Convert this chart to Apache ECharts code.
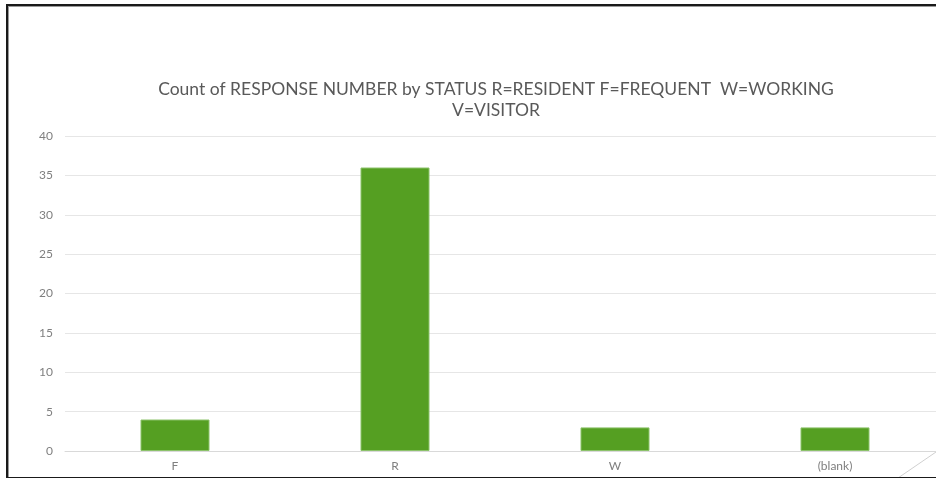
<!DOCTYPE html>
<html>
<head>
<meta charset="utf-8">
<script src="https://cdn.jsdelivr.net/npm/echarts@6/dist/echarts.min.js"></script>
<style>
html,body{margin:0;padding:0;background:#fff;overflow:hidden;width:936px;height:478px;}
#chart{position:absolute;left:0;top:0;width:945px;height:478px;}
#frame{position:absolute;left:6px;top:4px;width:950px;height:471px;border:2px solid #1a1a1a;box-shadow:inset 1px 1px 0 #9a9a9a;pointer-events:none;}
</style>
</head>
<body>
<div id="chart"></div>
<div id="frame"></div>
<script>
const titleText = "Count of RESPONSE NUMBER by STATUS R=RESIDENT F=FREQUENT  W=WORKING\nV=VISITOR";
const categories = ["F", "R", "W", "(blank)"];
const counts = [4, 36, 3, 3];
const yTicks = { min: 0, max: 40, interval: 5 };

const chart = echarts.init(document.getElementById('chart'), null, { renderer: 'canvas' });
chart.setOption({
  backgroundColor: '#ffffff',
  animation: false,
  title: {
    text: titleText,
    left: 491,
    top: 74,
    textAlign: 'center',
    textStyle: {
      fontFamily: 'Lato, "Open Sans", sans-serif',
      fontSize: 17.5,
      fontWeight: 'normal',
      color: '#595959',
      lineHeight: 21
    }
  },
  grid: { left: 65, right: 0, top: 136, bottom: 27, containLabel: false },
  xAxis: {
    type: 'category',
    data: categories,
    axisLine: { show: true, lineStyle: { color: '#d9d9d9', width: 1 } },
    axisTick: { show: false },
    axisLabel: { color: '#7f7f7f', fontSize: 12, margin: 9, fontFamily: 'Lato, sans-serif' },
    splitLine: { show: false }
  },
  yAxis: {
    type: 'value',
    min: yTicks.min, max: yTicks.max, interval: yTicks.interval,
    axisLine: { show: false },
    axisTick: { show: false },
    axisLabel: { color: '#7f7f7f', fontSize: 12, margin: 12, fontFamily: 'Lato, sans-serif' },
    splitLine: { lineStyle: { color: '#e6e6e6', width: 1 } }
  },
  series: [{
    type: 'bar',
    data: counts,
    barWidth: 69,
    itemStyle: { color: '#559f22', borderColor: '#8cc26a', borderWidth: 1 }
  }],
  graphic: [{
    type: 'line',
    shape: { x1: 898, y1: 478, x2: 936, y2: 452 },
    style: { stroke: '#d0d0d0', lineWidth: 1 },
    silent: true
  }]
});
</script>
</body>
</html>
